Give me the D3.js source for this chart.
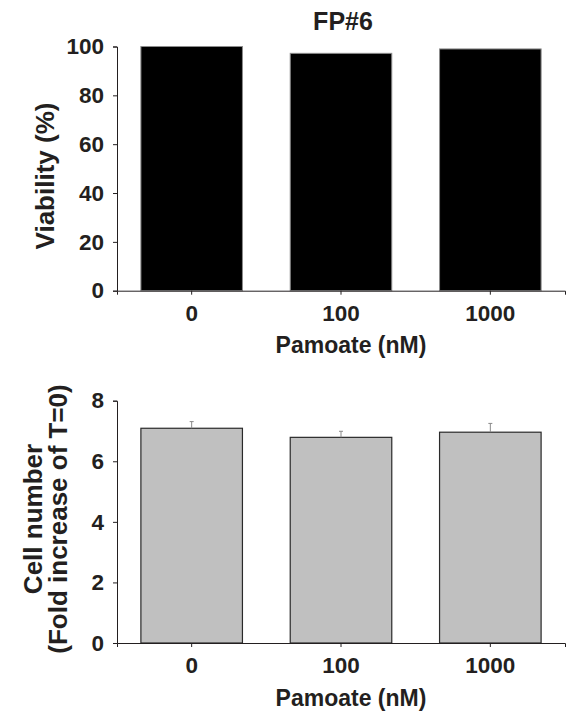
<!DOCTYPE html>
<html>
<head>
<meta charset="utf-8">
<script src="https://cdn.jsdelivr.net/npm/d3@7"></script>
<style>
  html, body { margin: 0; padding: 0; background: #fff; }
  svg { display: block; }
  .axis text { font-family: "Liberation Sans", Arial, sans-serif; font-weight: bold; font-size: 22.5px; fill: #231f20; }
  .axis path, .axis line { stroke: #231f20; stroke-width: 1; }
  .lbl { font-family: "Liberation Sans", Arial, sans-serif; font-weight: bold; fill: #231f20; }
</style>
</head>
<body>
<svg id="chart" width="569" height="717"></svg>
<script>
// Pamoate concentrations (nM)
const categories = ["0", "100", "1000"];

// Upper panel: viability (%)
const viability = [100, 97.2, 99.0];
const viabilityTicks = [0, 20, 40, 60, 80, 100];

// Lower panel: cell number, fold increase over T=0, with SD
const cellNumber = [7.09, 6.79, 6.96];
const cellNumberErr = [0.22, 0.20, 0.29];
const cellTicks = [0, 2, 4, 6, 8];

const svg = d3.select("#chart");

const x = d3.scaleBand()
  .domain(categories)
  .range([117, 565])
  .paddingInner(0.32)
  .paddingOuter(0.16);

function drawPanel(opts) {
  const y = d3.scaleLinear().domain(opts.domain).range([opts.y0, opts.y1]);
  const g = svg.append("g");

  // bars
  g.selectAll("rect.bar")
    .data(opts.values)
    .join("rect")
    .attr("class", "bar")
    .attr("x", (d, i) => x(categories[i]))
    .attr("width", x.bandwidth())
    .attr("y", d => y(d))
    .attr("height", d => y(0) - y(d))
    .attr("fill", opts.fill)
    .attr("stroke", opts.stroke)
    .attr("stroke-width", opts.strokeWidth);

  // error bars (upper half only)
  if (opts.errors) {
    const eg = g.selectAll("g.err")
      .data(opts.values.map((v, i) => ({ v, e: opts.errors[i], c: categories[i] })))
      .join("g")
      .attr("class", "err")
      .attr("stroke", "#8a8a8a")
      .attr("stroke-width", 1);
    eg.append("line")
      .attr("x1", d => x(d.c) + x.bandwidth() / 2)
      .attr("x2", d => x(d.c) + x.bandwidth() / 2)
      .attr("y1", d => y(d.v))
      .attr("y2", d => y(d.v + d.e));
    eg.append("line")
      .attr("x1", d => x(d.c) + x.bandwidth() / 2 - 2)
      .attr("x2", d => x(d.c) + x.bandwidth() / 2 + 2)
      .attr("y1", d => y(d.v + d.e))
      .attr("y2", d => y(d.v + d.e));
  }

  // axes
  g.append("g")
    .attr("class", "axis")
    .attr("transform", `translate(117,0)`)
    .call(d3.axisLeft(y).tickValues(opts.ticks).tickSize(4).tickSizeOuter(4).tickPadding(9));

  g.append("g")
    .attr("class", "axis")
    .attr("transform", `translate(0,${opts.y0})`)
    .call(d3.axisBottom(x).tickSize(4).tickSizeOuter(4).tickPadding(10));

  // x axis title
  g.append("text")
    .attr("class", "lbl")
    .attr("x", 351)
    .attr("y", opts.y0 + 62.5)
    .attr("text-anchor", "middle")
    .style("font-size", "23px")
    .text("Pamoate (nM)");

  // y axis title (one or two lines)
  opts.yTitle.forEach((t, i) => {
    g.append("text")
      .attr("class", "lbl")
      .attr("transform", `translate(${opts.yTitleX[i]},${opts.yTitleY}) rotate(-90)`)
      .attr("text-anchor", "middle")
      .style("font-size", "26px")
      .text(t);
  });
}

// chart title
svg.append("text")
  .attr("class", "lbl")
  .attr("x", 343)
  .attr("y", 29.5)
  .attr("text-anchor", "middle")
  .style("font-size", "25px")
  .text("FP#6");

drawPanel({
  values: viability,
  domain: [0, 100],
  y0: 290.7, y1: 46.5,
  ticks: viabilityTicks,
  fill: "#000",
  stroke: "#8c8c8c",
  strokeWidth: 1,
  yTitle: ["Viability (%)"],
  yTitleX: [53.5],
  yTitleY: 176
});

drawPanel({
  values: cellNumber,
  errors: cellNumberErr,
  domain: [0, 8],
  y0: 643, y1: 400.7,
  ticks: cellTicks,
  fill: "#c0c0c0",
  stroke: "#2a2a2a",
  strokeWidth: 1.2,
  yTitle: ["Cell number", "(Fold increase of T=0)"],
  yTitleX: [41.5, 67],
  yTitleY: 519
});
</script>
</body>
</html>
